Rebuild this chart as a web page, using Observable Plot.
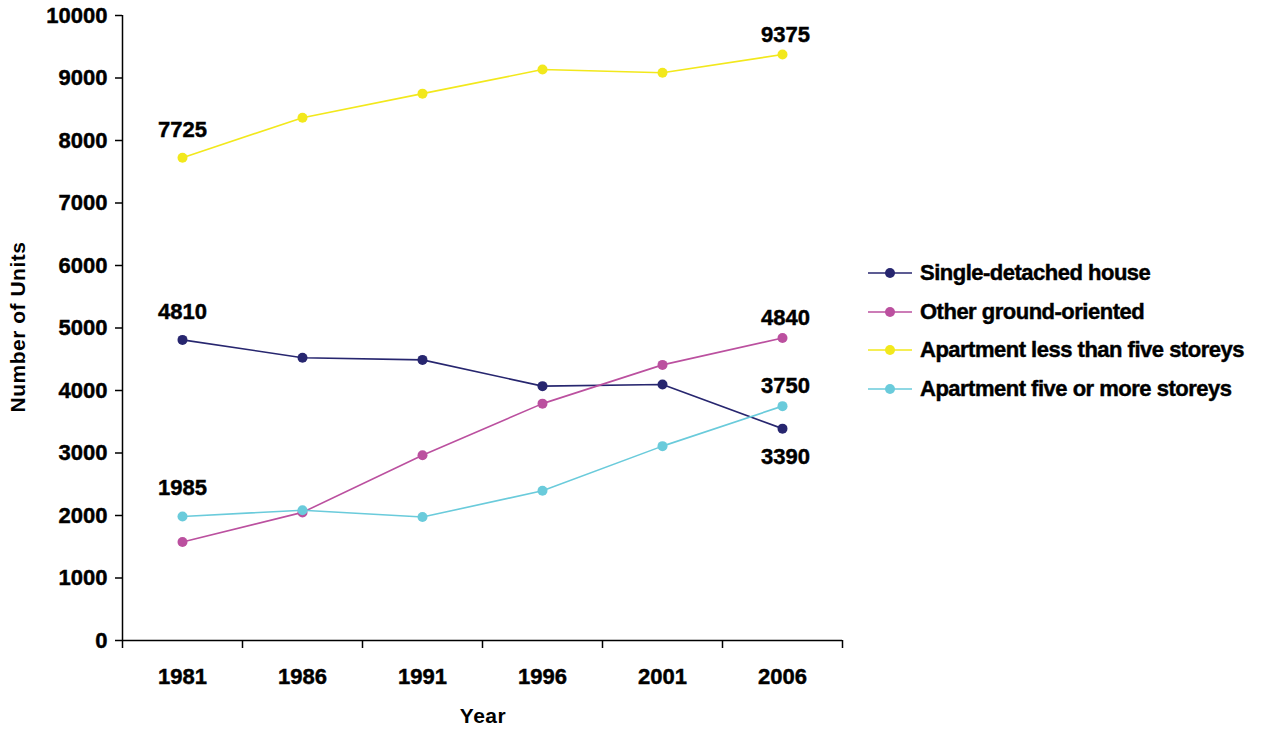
<!DOCTYPE html>
<html><head><meta charset="utf-8">
<script src="https://cdn.jsdelivr.net/npm/d3@7"></script>
<script src="https://cdn.jsdelivr.net/npm/@observablehq/plot@0.6"></script>
<style>
body{margin:0;background:#fff;font-family:"Liberation Sans",Arial,sans-serif}
#wrap{position:relative;width:1264px;height:730px;overflow:hidden}
#wrap > svg{position:absolute;left:0;top:0}
#wrap > svg text{stroke:#000;stroke-width:0.45px}
#legend{position:absolute;left:868px;top:254px}
.item{display:flex;align-items:center;height:38.5px;font-weight:bold;font-size:22px;letter-spacing:-0.5px;color:#000;white-space:nowrap;-webkit-text-stroke:0.45px #000}
.item svg{margin-right:8px}
.ytitle{position:absolute;left:18px;top:327px;transform:translate(-50%,-50%) rotate(-90deg);font-weight:bold;font-size:21px;letter-spacing:0.5px;white-space:nowrap}
.xtitle{position:absolute;left:483px;top:716px;transform:translate(-50%,-50%);font-weight:bold;font-size:21px;letter-spacing:0.5px}
</style></head><body><div id="wrap"></div>
<script>
const years = [1981, 1986, 1991, 1996, 2001, 2006];
const seriesNames = ["Single-detached house", "Other ground-oriented", "Apartment less than five storeys", "Apartment five or more storeys"];
const singleDetached = [4810, 4525, 4490, 4070, 4095, 3390];
const otherGround = [1575, 2050, 2965, 3790, 4410, 4840];
const aptLess5 = [7725, 8365, 8750, 9135, 9085, 9375];
const apt5More = [1985, 2085, 1975, 2395, 3110, 3750];
const colors = ["#27266f", "#bb509f", "#f2e81c", "#6acbdb"];
const yTicks = [0, 1000, 2000, 3000, 4000, 5000, 6000, 7000, 8000, 9000, 10000];
const xTitle = "Year";
const yTitle = "Number of Units";

const seriesValues = [singleDetached, otherGround, aptLess5, apt5More];
const data = seriesValues.flatMap((vals, i) => vals.map((v, j) => ({series: seriesNames[i], year: years[j], value: v})));
const boundaries = [years[0] - 2.5, ...years.map(y => y + 2.5)];
const pick = (i, j) => ({year: years[j], value: seriesValues[i][j]});
const labelsStart = [pick(0, 0), pick(2, 0), pick(3, 0)];
const labelsEndAbove = [pick(1, 5), pick(2, 5), pick(3, 5)];
const labelsEndBelow = [pick(0, 5)];

const font = {fontSize: 22, fontWeight: "bold", fill: "#000"};
const chart = Plot.plot({
  width: 1264, height: 730,
  marginLeft: 122, marginRight: 422, marginTop: 15, marginBottom: 90,
  style: {fontFamily: '"Liberation Sans", Arial, sans-serif', background: "transparent"},
  x: {domain: [boundaries[0], boundaries[boundaries.length - 1]]},
  y: {domain: [0, 10000]},
  color: {domain: seriesNames, range: colors},
  marks: [
    Plot.axisY({ticks: yTicks, tickSize: 7, tickPadding: 8, tickFormat: "d", label: null, strokeWidth: 1.5, ...font}),
    Plot.axisX({ticks: boundaries, tickSize: 8, tickFormat: () => "", label: null, strokeWidth: 1.5}),
    Plot.axisX({ticks: years, tickSize: 0, tickPadding: 28, tickFormat: "d", label: null, ...font}),
    Plot.ruleY([0], {stroke: "#000", strokeWidth: 1.5}),
    Plot.ruleX([boundaries[0]], {stroke: "#000", strokeWidth: 1.5}),
    Plot.line(data, {x: "year", y: "value", z: "series", stroke: "series", strokeWidth: 1.6}),
    Plot.dot(data, {x: "year", y: "value", fill: "series", r: 5}),
    Plot.text(labelsStart, {x: "year", y: "value", text: d => String(d.value), dy: -28, ...font}),
    Plot.text(labelsEndAbove, {x: "year", y: "value", text: d => String(d.value), dy: -20, dx: 3, ...font}),
    Plot.text(labelsEndBelow, {x: "year", y: "value", text: d => String(d.value), dy: 28, dx: 3, ...font})
  ]
});
const wrap = document.getElementById("wrap");
wrap.appendChild(chart);

const yt = document.createElement("div"); yt.className = "ytitle"; yt.textContent = yTitle; wrap.appendChild(yt);
const xt = document.createElement("div"); xt.className = "xtitle"; xt.textContent = xTitle; wrap.appendChild(xt);

const legend = document.createElement("div"); legend.id = "legend";
seriesNames.forEach((name, i) => {
  const item = document.createElement("div"); item.className = "item";
  const sw = d3.create("svg").attr("width", 44).attr("height", 12);
  sw.append("line").attr("x1", 0).attr("x2", 44).attr("y1", 6).attr("y2", 6).attr("stroke", colors[i]).attr("stroke-width", 1.6);
  sw.append("circle").attr("cx", 22).attr("cy", 6).attr("r", 5).attr("fill", colors[i]);
  item.appendChild(sw.node());
  const t = document.createElement("span"); t.textContent = name; item.appendChild(t);
  legend.appendChild(item);
});
wrap.appendChild(legend);
</script></body></html>
